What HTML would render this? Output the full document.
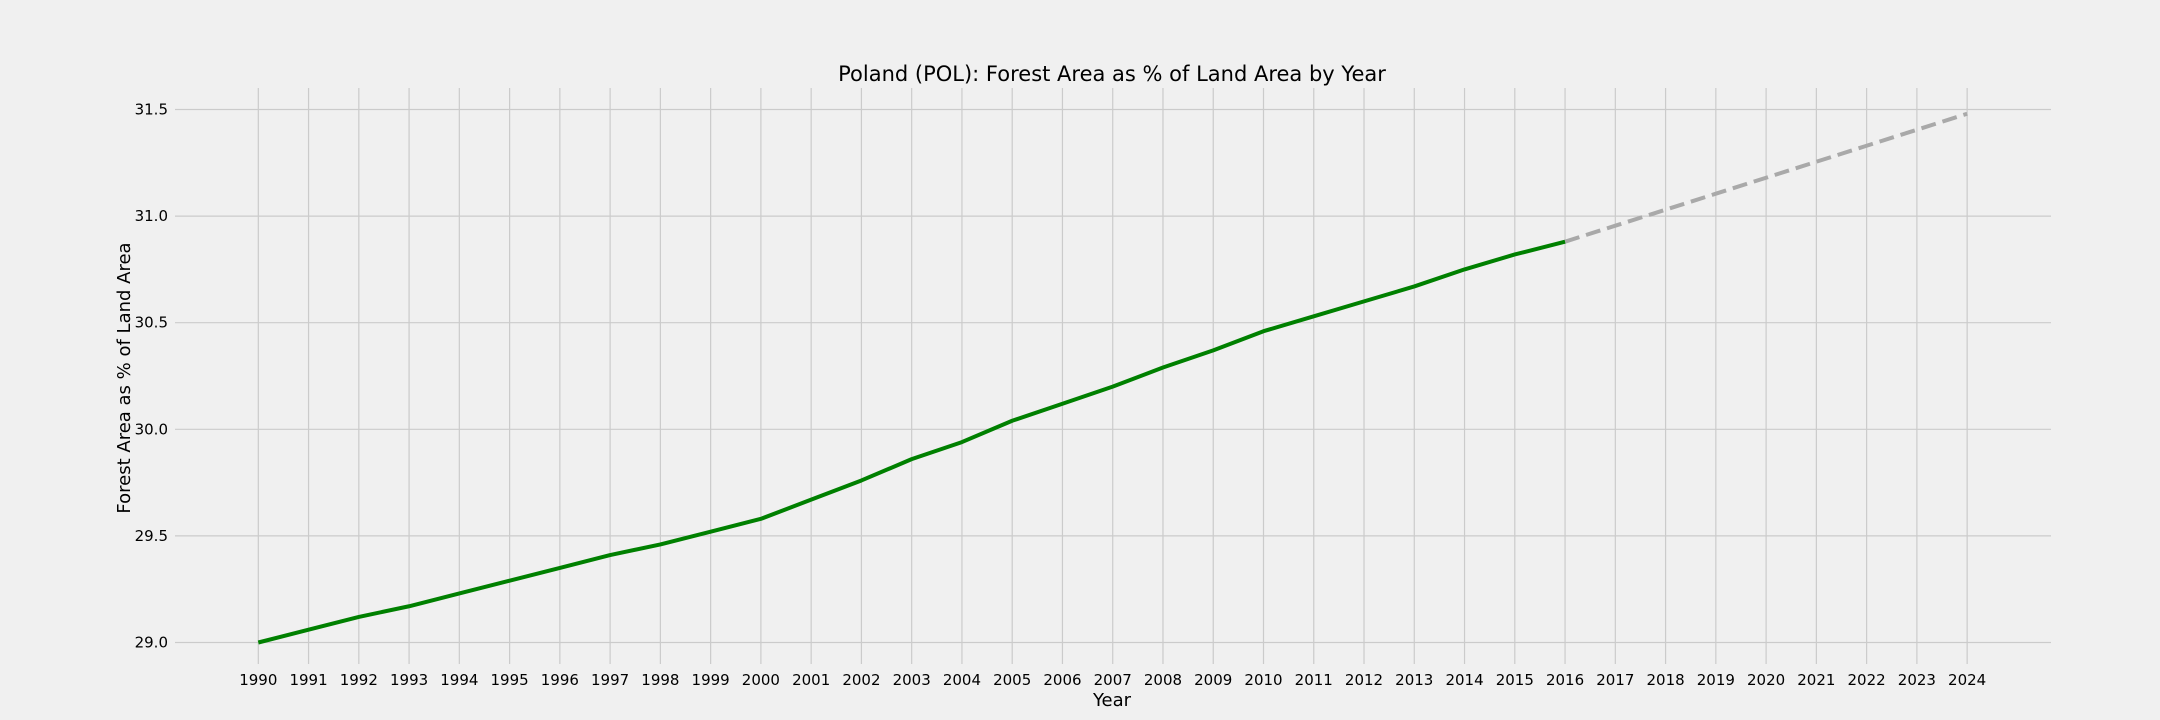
<!DOCTYPE html>
<html><head><meta charset="utf-8"><style>
html,body{margin:0;padding:0;background:#f0f0f0;}
svg{display:block;font-family:"DejaVu Sans","Liberation Sans",sans-serif;}
</style></head><body>
<svg id="chart" width="2160" height="720" viewBox="0 0 2160 720" xmlns="http://www.w3.org/2000/svg">
<rect width="2160" height="720" fill="#f0f0f0"/>
<g id="grid"></g>
<g id="series"></g>
<g id="ticks"></g>
<text x="1112" y="81" text-anchor="middle" font-size="21" fill="#000">Poland (POL): Forest Area as % of Land Area by Year</text>
<text x="1112" y="706" text-anchor="middle" font-size="18" fill="#000">Year</text>
<text transform="translate(130,378) rotate(-90)" text-anchor="middle" font-size="18" fill="#000">Forest Area as % of Land Area</text>
</svg>
<script>
const years = [1990,1991,1992,1993,1994,1995,1996,1997,1998,1999,2000,2001,2002,2003,2004,2005,2006,2007,2008,2009,2010,2011,2012,2013,2014,2015,2016];
const values = [29.00,29.06,29.12,29.17,29.23,29.29,29.35,29.41,29.46,29.52,29.58,29.67,29.76,29.86,29.94,30.04,30.12,30.20,30.29,30.37,30.46,30.53,30.60,30.67,30.75,30.82,30.88];
const forecastYears = [2016,2017,2018,2019,2020,2021,2022,2023,2024];
const forecastValues = [30.88,30.955,31.03,31.105,31.18,31.255,31.33,31.405,31.48];
const xTicks = [1990,1991,1992,1993,1994,1995,1996,1997,1998,1999,2000,2001,2002,2003,2004,2005,2006,2007,2008,2009,2010,2011,2012,2013,2014,2015,2016,2017,2018,2019,2020,2021,2022,2023,2024];
const yTicks = [29.0,29.5,30.0,30.5,31.0,31.5];

const NS = "http://www.w3.org/2000/svg";
const L = 175, R = 2051, T = 88, B = 664;
const x = y => 258.3 + (y - 1990) * 50.26;
const yv = v => 642.5 - (v - 29.0) * 213.2;
function mk(tag, attrs, parent){const e=document.createElementNS(NS,tag);for(const k in attrs)e.setAttribute(k,attrs[k]);parent.appendChild(e);return e;}
const grid=document.getElementById('grid'), ticks=document.getElementById('ticks'), series=document.getElementById('series');
xTicks.forEach(t=>{
  const g=mk('line',{x1:x(t),x2:x(t),y1:T,y2:B,stroke:'#cbcbcb','stroke-width':1.2},grid);
  
  
  const lb=mk('text',{x:x(t),y:685,'text-anchor':'middle','font-size':15,fill:'#000'},ticks);
  lb.textContent=t;
  
  
});
yTicks.forEach(t=>{
  const g=mk('line',{x1:L,x2:R,y1:yv(t),y2:yv(t),stroke:'#cbcbcb','stroke-width':1.2},grid);
  
  
  const lb=mk('text',{x:168,y:yv(t)+5,'text-anchor':'end','font-size':15,fill:'#000'},ticks);
  lb.textContent=t.toFixed(1);
  
  
});
const fp=mk('polyline',{points:forecastYears.map((y,i)=>x(y)+','+yv(forecastValues[i])).join(' '),fill:'none',stroke:'#a9a9a9','stroke-width':4,'stroke-dasharray':'15 7'},series);


const ap=mk('polyline',{points:years.map((y,i)=>x(y)+','+yv(values[i])).join(' '),fill:'none',stroke:'#008000','stroke-width':4,'stroke-linejoin':'round'},series);


</script>
</body></html>
